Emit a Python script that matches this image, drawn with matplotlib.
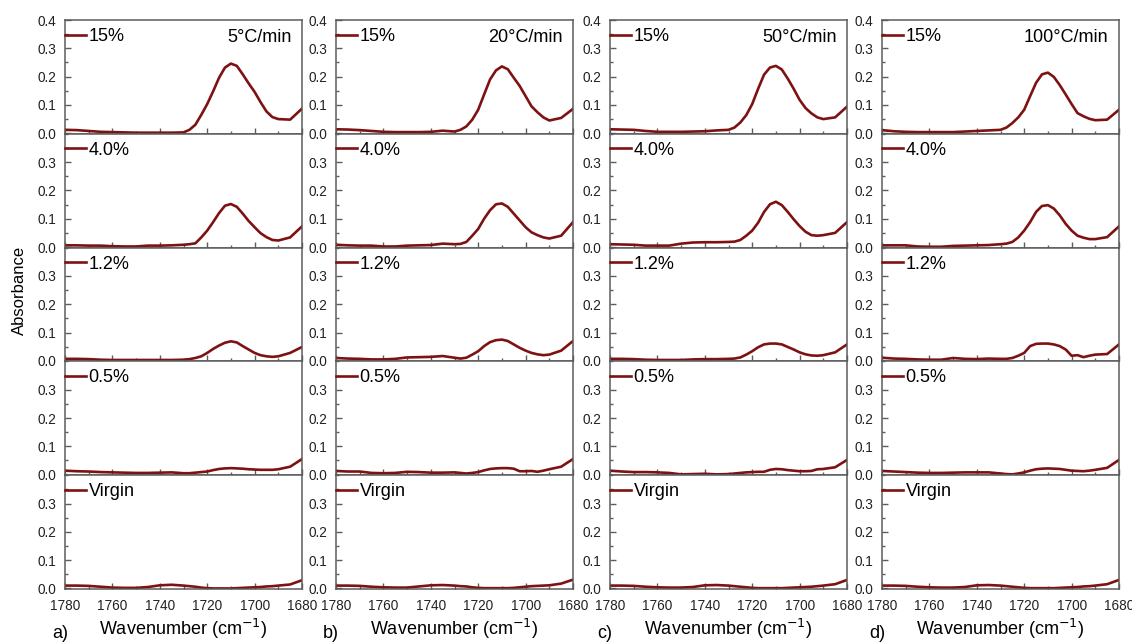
import matplotlib
matplotlib.use("Agg")
import matplotlib.pyplot as plt
from matplotlib.ticker import MultipleLocator

plt.rcParams['font.family'] = ['Liberation Sans', 'DejaVu Sans']

# wavenumber grid (cm-1), finer around the carbonyl peak
wavenumber = [1780, 1775, 1770, 1765, 1760, 1755, 1750, 1745, 1740, 1735, 1730,
              1727.5, 1725, 1722.5, 1720, 1717.5, 1715, 1712.5, 1710, 1707.5,
              1705, 1702.5, 1700, 1697.5, 1695, 1692.5, 1690, 1685, 1680]

samples = ["15%", "4.0%", "1.2%", "0.5%", "Virgin"]
rates = ["5", "20", "50", "100"]
panel_tags = ["a)", "b)", "c)", "d)"]

# a) 5 C/min
a_15 = [.012, .011, .008, .005, .004, .003, .002, .002, .002, .002, .003,
        .012, .030, .065, .103, .148, .196, .232, .246, .238,
        .208, .176, .146, .110, .077, .057, .050, .048, .087]
a_4 = [.006, .006, .005, .005, .003, .002, .002, .005, .005, .006, .008,
       .010, .013, .034, .058, .088, .120, .146, .152, .142,
       .118, .092, .070, .049, .035, .025, .023, .034, .073]
a_12 = [.007, .007, .006, .004, .003, .003, .003, .003, .003, .003, .004,
        .006, .010, .016, .028, .042, .054, .064, .069, .065,
        .052, .040, .028, .020, .016, .014, .016, .028, .049]
a_05 = [.014, .012, .011, .009, .008, .007, .006, .006, .007, .008, .005,
        .005, .007, .009, .011, .016, .020, .022, .023, .022,
        .021, .019, .018, .017, .017, .017, .019, .028, .055]
a_v = [.010, .010, .009, .006, .003, .002, .002, .005, .011, .013, .010,
       .008, .006, .003, .001, .000, .000, .000, .000, .001,
       .002, .003, .004, .005, .007, .008, .010, .014, .029]

# b) 20 C/min
b_15 = [.014, .013, .011, .008, .005, .004, .004, .004, .005, .009, .006,
        .012, .024, .048, .083, .137, .190, .222, .236, .226,
        .196, .167, .131, .095, .074, .056, .045, .054, .086]
b_4 = [.008, .006, .005, .005, .002, .002, .005, .006, .007, .012, .010,
       .011, .018, .040, .064, .100, .130, .151, .154, .142,
       .118, .094, .070, .052, .042, .034, .030, .040, .088]
b_12 = [.010, .008, .007, .005, .005, .007, .012, .013, .014, .017, .011,
        .008, .011, .022, .034, .052, .066, .073, .075, .070,
        .058, .046, .036, .028, .023, .020, .022, .036, .070]
b_05 = [.013, .011, .011, .006, .005, .006, .010, .009, .007, .007, .008,
        .006, .004, .006, .009, .015, .020, .022, .023, .023,
        .021, .012, .012, .013, .010, .014, .019, .028, .055]
b_v = [.010, .010, .009, .006, .004, .003, .003, .007, .011, .012, .010,
       .008, .007, .004, .002, .001, .001, .001, .001, .001,
       .002, .004, .006, .008, .009, .010, .011, .017, .031]

# c) 50 C/min
c_15 = [.014, .013, .012, .008, .005, .005, .005, .006, .007, .010, .012,
        .020, .038, .064, .103, .157, .207, .232, .238, .225,
        .193, .157, .118, .089, .070, .056, .050, .056, .094]
c_4 = [.010, .009, .008, .005, .005, .005, .012, .016, .017, .017, .018,
       .019, .025, .040, .058, .086, .124, .151, .160, .148,
       .124, .098, .074, .054, .042, .040, .042, .050, .088]
c_12 = [.007, .007, .006, .004, .003, .003, .003, .005, .006, .006, .007,
        .008, .012, .022, .034, .048, .058, .061, .061, .058,
        .049, .040, .030, .023, .019, .018, .020, .030, .058]
c_05 = [.014, .011, .009, .009, .008, .006, .001, .002, .003, .001, .002,
        .004, .006, .008, .009, .010, .010, .017, .020, .019,
        .016, .014, .012, .012, .013, .019, .020, .026, .052]
c_v = [.010, .010, .009, .006, .004, .003, .003, .005, .011, .012, .010,
       .008, .006, .004, .002, .001, .001, .001, .001, .001,
       .002, .003, .004, .005, .006, .008, .010, .015, .030]

# d) 100 C/min
d_15 = [.011, .007, .005, .004, .004, .004, .004, .006, .008, .010, .012,
        .020, .036, .056, .083, .131, .178, .208, .214, .199,
        .170, .137, .103, .071, .060, .051, .046, .048, .083]
d_4 = [.006, .006, .006, .002, .001, .001, .004, .005, .006, .007, .010,
       .012, .018, .034, .058, .088, .124, .145, .148, .136,
       .112, .082, .058, .040, .033, .028, .028, .035, .073]
d_12 = [.011, .008, .007, .005, .004, .004, .010, .007, .006, .008, .007,
        .007, .010, .018, .028, .052, .060, .061, .061, .058,
        .052, .040, .018, .020, .013, .018, .022, .024, .058]
d_05 = [.013, .011, .009, .007, .006, .006, .007, .008, .008, .008, .004,
        .002, .001, .004, .008, .014, .019, .021, .022, .021,
        .020, .017, .014, .013, .012, .014, .017, .024, .052]
d_v = [.010, .010, .009, .006, .004, .003, .003, .005, .011, .012, .010,
       .008, .006, .004, .002, .001, .001, .001, .001, .001,
       .002, .003, .004, .005, .007, .008, .010, .015, .030]

columns = [
    [a_15, a_4, a_12, a_05, a_v],
    [b_15, b_4, b_12, b_05, b_v],
    [c_15, c_4, c_12, c_05, c_v],
    [d_15, d_4, d_12, d_05, d_v],
]

LINE_COLOR = '#7e1212'
SPINE_COLOR = '#5c5c5c'

fig = plt.figure(figsize=(11.32, 6.44), dpi=100)

col_left = [65, 336, 610, 882]
col_width = 237
top_px, bottom_px = 20, 589
row_h = (bottom_px - top_px) / 5

for c, spectra in enumerate(columns):
    for r, y in enumerate(spectra):
        left = col_left[c] / 1132
        bottom = (644 - top_px - (r + 1) * row_h) / 644
        ax = fig.add_axes([left, bottom, col_width / 1132, row_h / 644])
        ax.plot(wavenumber, y, color=LINE_COLOR, lw=1.9, label=samples[r])
        ax.set_xlim(1780, 1680)
        ax.set_ylim(-0.002, 0.4)
        ax.xaxis.set_major_locator(MultipleLocator(20))
        ax.xaxis.set_minor_locator(MultipleLocator(10))
        if r == 0:
            ax.set_yticks([0, 0.1, 0.2, 0.3, 0.4])
        else:
            ax.set_yticks([0, 0.1, 0.2, 0.3])
        ax.yaxis.set_minor_locator(MultipleLocator(0.05))
        ax.tick_params(which='both', direction='in', colors=SPINE_COLOR,
                       labelcolor='#222222', labelsize=9.8, width=1)
        ax.tick_params(which='major', length=4)
        ax.tick_params(which='minor', length=2)
        ax.tick_params(axis='y', pad=6)
        ax.tick_params(axis='x', pad=7)
        for s in ax.spines.values():
            s.set_color(SPINE_COLOR)
            s.set_linewidth(1.1)
        if r < 4:
            ax.tick_params(axis='x', labelbottom=False)
        else:
            ax.set_xlabel('Wavenumber (cm$^{-1}$)', fontsize=13, labelpad=3)
        ax.legend(loc='upper left', bbox_to_anchor=(0, 0.93), frameon=False,
                  borderaxespad=0, borderpad=0, handlelength=1.15,
                  handletextpad=0.15, fontsize=13)
        if r == 0:
            ax.text(0.955, 0.85, rates[c] + '°C/min', transform=ax.transAxes,
                    ha='right', va='center', fontsize=13)
    fig.text((col_left[c] - 13) / 1132, 1 - 633 / 644, panel_tags[c],
             ha='left', va='center', fontsize=13)

fig.text(19 / 1132, 1 - 290 / 644, 'Absorbance', rotation=90,
         ha='center', va='center', fontsize=12)

fig.savefig('out.png', dpi=100)
